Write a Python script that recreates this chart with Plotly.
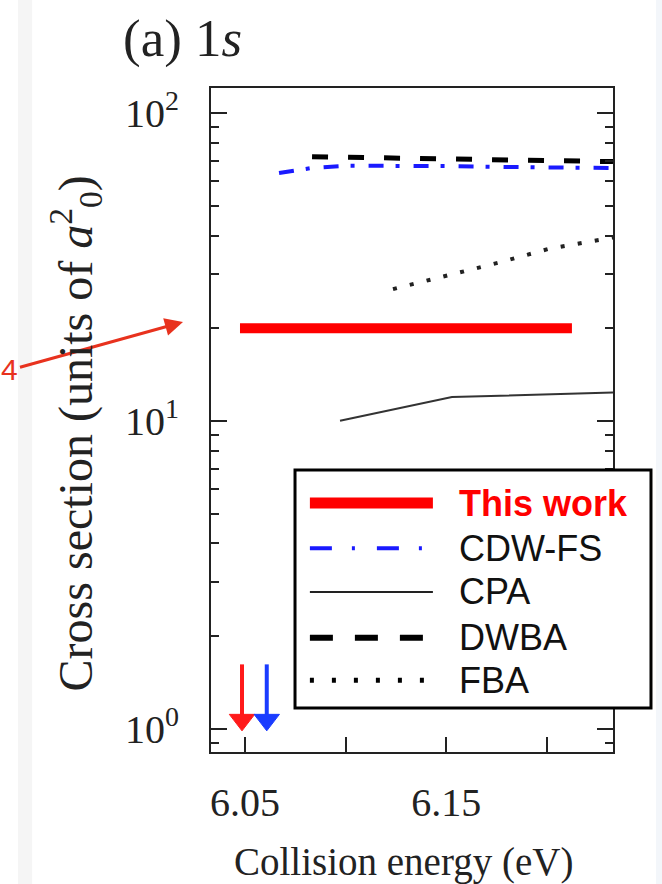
import math
import plotly.graph_objects as go

# ---- data ----
this_work_x = [6.0475, 6.2124]
this_work_y = [20.0, 20.0]

cdwfs_x = [6.0669, 6.0833, 6.10, 6.15, 6.20, 6.2328]
cdwfs_y = [63.8, 66.3, 67.4, 67.2, 66.5, 66.3]

cpa_x = [6.0972, 6.1528, 6.2328]
cpa_y = [10.02, 11.95, 12.36]

dwba_x = [6.0833, 6.15, 6.2328]
dwba_y = [72.1, 71.0, 69.5]

fba_x = [6.1235, 6.1498, 6.1756, 6.2009, 6.2273, 6.2328]
fba_y = [26.8, 29.6, 32.6, 36.2, 38.7, 39.4]

threshold_x = [6.0485, 6.0608]          # red, blue arrows
threshold_y = [1.62, 1.07]              # tail, head centre
threshold_colors = ["#ff1a1a", "#1a3cff"]

x_tickvals = [6.05, 6.15]
x_ticktext = ["6.05", "6.15"]
x_minor = [6.10, 6.20]
y_tickvals = [1, 10, 100]
y_ticktext = ["10<sup>0</sup>", "10<sup>1</sup>", "10<sup>2</sup>"]
y_minor = [0.9] + [v for d in (1, 10) for v in [d * k for k in range(2, 10)]]

legend_names = ["This work", "CDW-FS", "CPA", "DWBA", "FBA"]

SERIF = "Liberation Serif"
SANS = "Liberation Sans"

fig = go.Figure()
fig.add_trace(go.Scatter(x=this_work_x, y=this_work_y, mode="lines",
                         line=dict(color="#ff0000", width=10), showlegend=False))
fig.add_trace(go.Scatter(x=cdwfs_x, y=cdwfs_y, mode="lines",
                         line=dict(color="#1a1aff", width=4, dash="15px,12px,4px,14px"), showlegend=False))
fig.add_trace(go.Scatter(x=cpa_x, y=cpa_y, mode="lines",
                         line=dict(color="#333333", width=2), showlegend=False))
fig.add_trace(go.Scatter(x=dwba_x, y=dwba_y, mode="lines",
                         line=dict(color="#000000", width=5, dash="16px,20px"), showlegend=False))
fig.add_trace(go.Scatter(x=fba_x, y=fba_y, mode="lines",
                         line=dict(color="#222222", width=4, dash="4px,13.3px"), showlegend=False))

# threshold arrows (line + triangle head)
for tx, col in zip(threshold_x, threshold_colors):
    fig.add_trace(go.Scatter(x=[tx, tx], y=threshold_y, mode="lines+markers",
                             line=dict(color=col, width=4),
                             marker=dict(symbol="triangle-down", size=[0, 22], color=col,
                                         opacity=1, line=dict(width=1, color=col)),
                             showlegend=False, cliponaxis=False))

annotations = []
shapes = []

# pointer arrow with "4"
annotations.append(dict(x=-0.0697, y=0.6476, xref="paper", yref="paper", text="4",
                        showarrow=True, ax=-173, ay=48, arrowhead=2, arrowsize=1.2,
                        arrowwidth=3, arrowcolor="#e8321e",
                        font=dict(family=SANS, size=30, color="#e8321e")))

# titles
annotations.append(dict(x=-0.224, y=1.0753, xref="paper", yref="paper", xanchor="left",
                        yanchor="middle", text="(a) 1<i>s</i>", showarrow=False,
                        font=dict(family=SERIF, size=53, color="#222")))
annotations.append(dict(x=0.478, y=-0.166, xref="paper", yref="paper", xanchor="center",
                        yanchor="middle", text="Collision energy (eV)", showarrow=False,
                        font=dict(family=SERIF, size=39, color="#222")))
annotations.append(dict(x=-0.338, y=0.48, xref="paper", yref="paper", xanchor="center",
                        yanchor="middle", textangle=-90,
                        text="Cross section (units of <i>a</i><sup>2</sup><sub>0</sub>)",
                        showarrow=False, font=dict(family=SERIF, size=48, color="#222")))

# legend box
shapes.append(dict(type="rect", xref="paper", yref="paper", x0=0.209, x1=1.0945,
                   y0=0.0663, y1=0.4247, line=dict(color="black", width=3),
                   fillcolor="white", layer="above"))
row_y = [0.375, 0.307, 0.241, 0.172, 0.108]
styles = [
    dict(color="#ff0000", width=11),
    dict(color="#1a1aff", width=4, dash="22px,20px,3px,22px"),
    dict(color="#222222", width=2),
    dict(color="#000000", width=6, dash="23px,22px"),
    dict(color="#000000", width=5, dash="4px,18px"),
]
for name, yy, st in zip(legend_names, row_y, styles):
    shapes.append(dict(type="line", xref="paper", yref="paper", x0=0.246, x1=0.552,
                       y0=yy, y1=yy, line=st, layer="above"))
    bold = name == "This work"
    annotations.append(dict(x=0.612, y=yy, xref="paper", yref="paper", xanchor="left",
                            yanchor="middle", showarrow=False,
                            text=("<b>%s</b>" % name) if bold else name,
                            font=dict(family=SANS, size=36,
                                      color="#ff0000" if bold else "#111")))

# page side strips
shapes.append(dict(type="rect", xref="paper", yref="paper", x0=-0.480, x1=-0.445,
                   y0=-0.199, y1=1.1325, line=dict(width=0), fillcolor="#f5f5f5", layer="below"))
shapes.append(dict(type="rect", xref="paper", yref="paper", x0=1.107, x1=1.125,
                   y0=-0.199, y1=1.1325, line=dict(width=0), fillcolor="#f3f6fa", layer="below"))

fig.update_layout(
    width=662, height=884,
    margin=dict(l=211, r=49, t=88, b=132),
    paper_bgcolor="white", plot_bgcolor="white",
    showlegend=False,
    annotations=annotations, shapes=shapes,
    xaxis=dict(range=[6.0331, 6.2328], tickvals=x_tickvals, ticktext=x_ticktext,
               ticks="inside", ticklen=15, tickwidth=2, tickcolor="#222",
               showline=True, linecolor="#222", linewidth=2, mirror=True,
               showgrid=False, zeroline=False, ticklabelstandoff=14,
               minor=dict(tickvals=x_minor, ticks="inside", ticklen=15, tickwidth=2,
                          tickcolor="#222", showgrid=False),
               tickfont=dict(family=SERIF, size=40, color="#222")),
    yaxis=dict(type="log", range=[-0.075, 2.081], tickvals=y_tickvals, ticktext=y_ticktext,
               ticks="inside", ticklen=16, tickwidth=2, tickcolor="#222",
               showline=True, linecolor="#222", linewidth=2, mirror="ticks",
               showgrid=False, zeroline=False, ticklabelstandoff=22,
               minor=dict(tickvals=y_minor, ticks="inside", ticklen=8, tickwidth=2,
                          tickcolor="#222", showgrid=False),
               tickfont=dict(family=SERIF, size=40, color="#222")),
)

fig.write_html("out.html")
